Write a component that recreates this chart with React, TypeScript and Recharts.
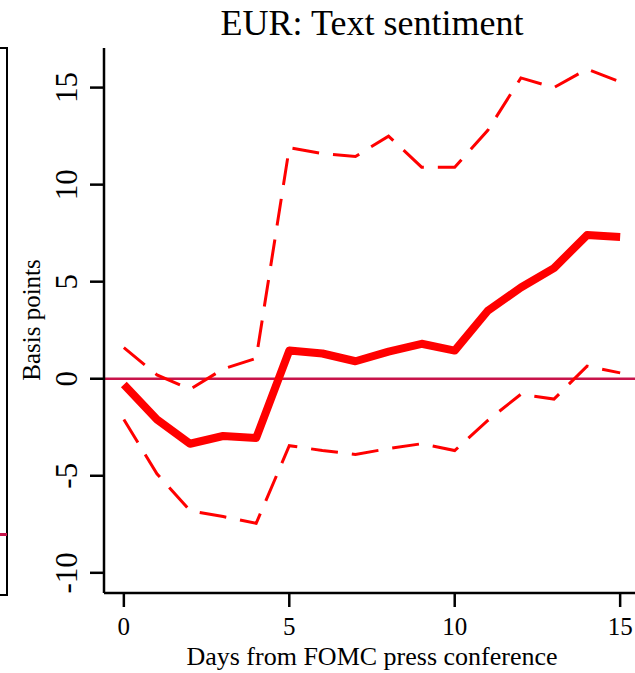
import React from "react";
import { LineChart, Line, XAxis, YAxis, ReferenceLine } from "recharts";

const days = [0, 1, 2, 3, 4, 5, 6, 7, 8, 9, 10, 11, 12, 13, 14, 15];
const coef = [-0.3, -2.1, -3.35, -2.95, -3.05, 1.45, 1.3, 0.9, 1.4, 1.8, 1.45, 3.5, 4.7, 5.7, 7.4, 7.3];
const upper = [1.6, 0.2, -0.55, 0.5, 1.05, 11.9, 11.6, 11.45, 12.5, 10.9, 10.9, 12.8, 15.5, 15.0, 15.95, 15.3];
const lower = [-2.1, -4.9, -6.8, -7.1, -7.45, -3.45, -3.7, -3.9, -3.6, -3.35, -3.7, -2.15, -0.8, -1.05, 0.65, 0.3];
const xTicks = [0, 5, 10, 15];
const yTicks = [-10, -5, 0, 5, 10, 15];

const data = days.map((d, i) => ({ day: d, coef: coef[i], upper: upper[i], lower: lower[i] }));

const FONT = "'Liberation Serif', 'Times New Roman', serif";

function YTick({ x, y, payload }: any) {
  const bx = x - 11;
  return (
    <text x={bx} y={y} transform={`rotate(-90 ${bx} ${y})`} textAnchor="middle"
      fontFamily="Liberation Serif" style={{ fontFamily: FONT, fontSize: 31 }} fill="#000">
      {payload.value}
    </text>
  );
}

function XTick({ x, y, payload }: any) {
  return (
    <text x={x} y={y + 26} textAnchor="middle" fontFamily="Liberation Serif"
      style={{ fontFamily: FONT, fontSize: 25 }} fill="#000">
      {payload.value}
    </text>
  );
}

export default function App() {
  return (
    <div style={{ position: "fixed", left: 0, top: 0, width: 635, height: 673, overflow: "hidden", background: "#fff", fontFamily: FONT }}>
      {/* edge of the neighbouring panel */}
      <div style={{ position: "absolute", left: 0, top: 47, width: 6, height: 545, borderTop: "2.5px solid #000", borderRight: "2.5px solid #000", borderBottom: "2.5px solid #000" }} />
      <div style={{ position: "absolute", left: 0, top: 533, width: 7, height: 2.5, background: "#C8144B" }} />

      <div style={{ position: "absolute", left: 0, top: 5, width: 744, textAlign: "center", fontFamily: FONT, fontSize: 36, lineHeight: "36px", color: "#000" }}>
        EUR: Text sentiment
      </div>

      <div style={{ position: "absolute", left: 0, top: 0 }}>
        <LineChart width={660} height={673} data={data} margin={{ top: 48, right: 20, bottom: 0, left: 0 }}
          style={{ fontFamily: FONT }}>
          <XAxis xAxisId="top" orientation="top" dataKey="day" type="number" domain={[-0.6, 15.6]}
            allowDataOverflow height={0} tick={false} tickLine={false}
            axisLine={{ stroke: "#000", strokeWidth: 2.5 }} />
          <XAxis dataKey="day" type="number" domain={[-0.6, 15.6]} ticks={xTicks} allowDataOverflow
            height={80} tickSize={14} tick={<XTick />}
            tickLine={{ stroke: "#000", strokeWidth: 2.5 }}
            axisLine={{ stroke: "#000", strokeWidth: 2.5 }}
            label={{ value: "Days from FOMC press conference", position: "insideBottom", offset: 8, fontSize: 26, fontFamily: FONT, fill: "#000" }} />
          <YAxis type="number" domain={[-11.04, 17.04]} ticks={yTicks} allowDataOverflow width={104}
            tickSize={14} tick={<YTick />}
            tickLine={{ stroke: "#000", strokeWidth: 2.5 }}
            axisLine={{ stroke: "#000", strokeWidth: 2.5 }}
            label={{
              content: () => (
                <text x={40} y={320} transform="rotate(-90 40 320)" textAnchor="middle"
                  style={{ fontFamily: FONT, fontSize: 25 }} fill="#000">Basis points</text>
              ),
            }} />
          <ReferenceLine y={0} stroke="#C8144B" strokeWidth={2.5} />
          <Line type="linear" dataKey="upper" stroke="#ff0000" strokeWidth={3} strokeDasharray="27 14"
            dot={false} activeDot={false} isAnimationActive={false} />
          <Line type="linear" dataKey="lower" stroke="#ff0000" strokeWidth={3} strokeDasharray="27 14"
            dot={false} activeDot={false} isAnimationActive={false} />
          <Line type="linear" dataKey="coef" stroke="#ff0000" strokeWidth={8} strokeLinejoin="round"
            strokeLinecap="butt" dot={false} activeDot={false} isAnimationActive={false} />
        </LineChart>
      </div>
    </div>
  );
}
